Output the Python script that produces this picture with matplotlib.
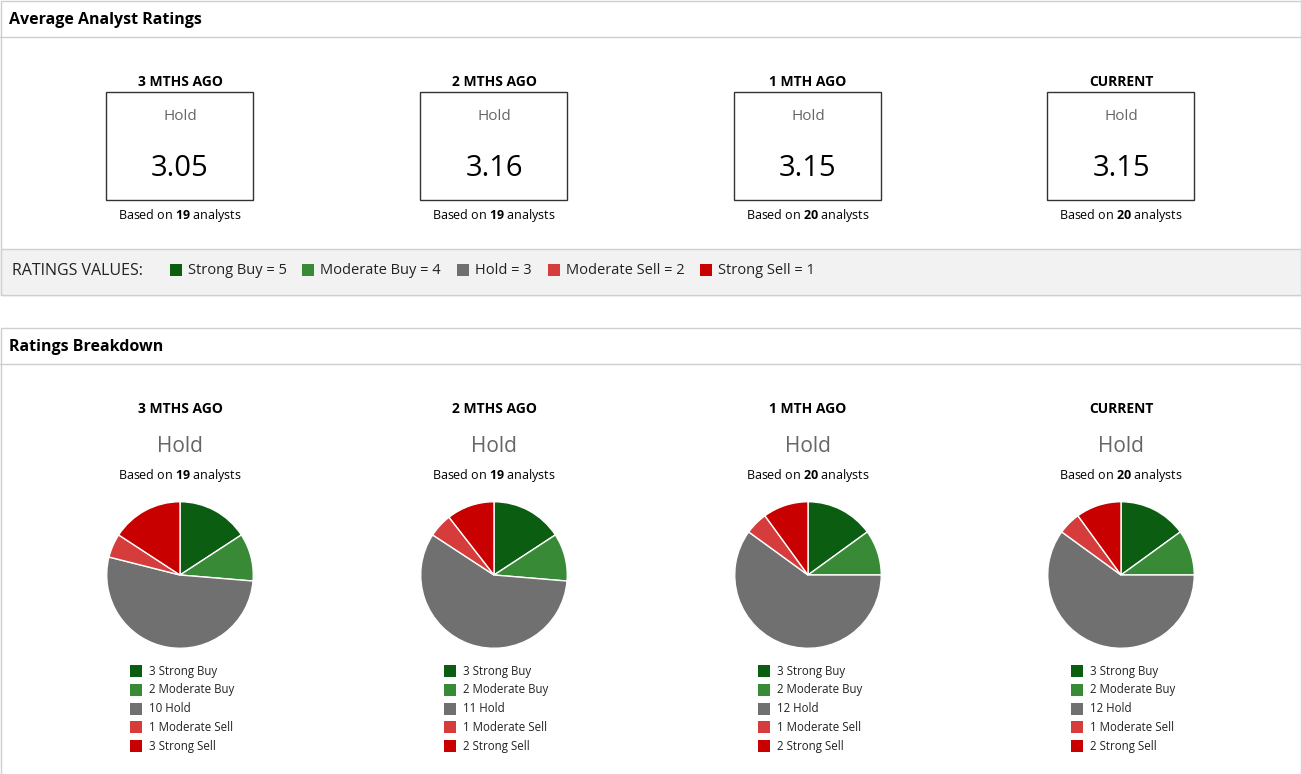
import matplotlib.pyplot as plt
from matplotlib.patches import Rectangle

plt.rcParams['font.family'] = ['Open Sans', 'DejaVu Sans']
plt.rcParams['mathtext.fontset'] = 'custom'
plt.rcParams['mathtext.rm'] = 'Open Sans'
plt.rcParams['mathtext.bf'] = 'Open Sans:bold'

periods = ['3 MTHS AGO', '2 MTHS AGO', '1 MTH AGO', 'CURRENT']
avg_ratings = [3.05, 3.16, 3.15, 3.15]
consensus = ['Hold', 'Hold', 'Hold', 'Hold']
analysts = [19, 19, 20, 20]
rating_names = ['Strong Buy', 'Moderate Buy', 'Hold', 'Moderate Sell', 'Strong Sell']
rating_values = [5, 4, 3, 2, 1]
counts = [
    [3, 2, 10, 1, 3],
    [3, 2, 11, 1, 2],
    [3, 2, 12, 1, 2],
    [3, 2, 12, 1, 2],
]
colors = ['#0b5d12', '#388a37', '#707070', '#d63c3c', '#c80000']

W, H = 1301, 774
fig = plt.figure(figsize=(W / 100, H / 100), dpi=100)
bg = fig.add_axes([0, 0, 1, 1])
bg.set_xlim(0, W)
bg.set_ylim(H, 0)
bg.axis('off')

line = '#cfcfcf'
# panel 1
bg.add_patch(Rectangle((0.5, 0.5), W - 1, 294, fill=False, ec=line, lw=1))
bg.plot([0, W], [37, 37], color=line, lw=1)
bg.text(9, 20, 'Average Analyst Ratings', fontsize=11.5, fontweight='bold', va='center')
bg.add_patch(Rectangle((0.5, 249), W - 1, 46, fc='#f2f2f2', ec=line, lw=1))
# panel 2
bg.add_patch(Rectangle((0.5, 327.5), W - 1, 460, fill=False, ec=line, lw=1))
bg.plot([0, W], [364, 364], color=line, lw=1)
bg.text(9, 347, 'Ratings Breakdown', fontsize=11.5, fontweight='bold', va='center')

# ratings legend
bg.text(12, 271, 'RATINGS VALUES:', fontsize=11.5, va='center', color='#222222')
xs = [170, 302, 457, 548, 700]
for x, name, val, c in zip(xs, rating_names, rating_values, colors):
    bg.add_patch(Rectangle((x, 264), 12, 12, fc=c, ec='none'))
    bg.text(x + 18, 271, f'{name} = {val}', fontsize=10.5, va='center', color='#222222')

centers = [180, 494, 808, 1121]
for i, cx in enumerate(centers):
    bg.text(cx, 82, periods[i], fontsize=10, fontweight='bold', ha='center', va='center')
    bg.add_patch(Rectangle((cx - 74, 92), 147, 108, fill=False, ec='#333333', lw=1))
    bg.text(cx, 116, consensus[i], fontsize=11, color='#666666', ha='center', va='center')
    bg.text(cx, 168, f'{avg_ratings[i]:.2f}', fontsize=21, ha='center', va='center')
    bg.text(cx, 216, f'Based on $\\bf{{{analysts[i]}}}$ analysts', fontsize=9, ha='center', va='center')

    bg.text(cx, 409, periods[i], fontsize=10, fontweight='bold', ha='center', va='center')
    bg.text(cx, 446, consensus[i], fontsize=15, color='#666666', ha='center', va='center')
    bg.text(cx, 476, f'Based on $\\bf{{{analysts[i]}}}$ analysts', fontsize=9, ha='center', va='center')

    r = 74
    pax = fig.add_axes([(cx - r) / W, 1 - (575 + r) / H, 2 * r / W, 2 * r / H])
    pax.pie(counts[i], colors=colors, startangle=90, counterclock=False, radius=1,
            wedgeprops=dict(edgecolor='white', linewidth=1))
    pax.set_xlim(-1.01, 1.01)
    pax.set_ylim(-1.01, 1.01)
    pax.set_aspect('equal')

    for j, (n, name) in enumerate(zip(counts[i], rating_names)):
        y = 671 + j * 18.8
        bg.add_patch(Rectangle((cx - 50, y - 6), 12, 12, fc=colors[j], ec='none'))
        bg.text(cx - 31, y, f'{n} {name}', fontsize=8.3, va='center', color='#222222')

fig.savefig('out.png', dpi=100)
